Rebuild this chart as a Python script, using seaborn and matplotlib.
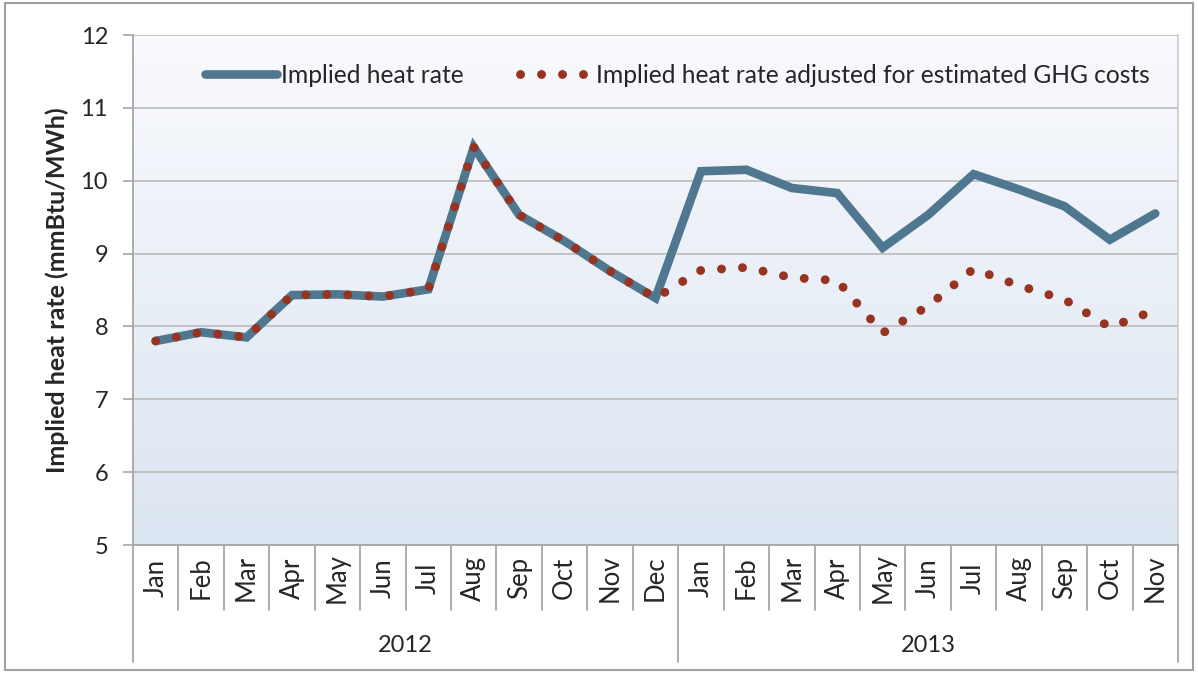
import numpy as np
import pandas as pd
import matplotlib
matplotlib.use("Agg")
import matplotlib.pyplot as plt
import matplotlib.transforms as mtransforms
from matplotlib.colors import LinearSegmentedColormap
import seaborn as sns

# data
months = ["Jan", "Feb", "Mar", "Apr", "May", "Jun", "Jul", "Aug", "Sep", "Oct", "Nov", "Dec",
          "Jan", "Feb", "Mar", "Apr", "May", "Jun", "Jul", "Aug", "Sep", "Oct", "Nov"]
years = ["2012", "2013"]
months_per_year = [12, 11]
heat_rate = [7.80, 7.92, 7.85, 8.43, 8.44, 8.41, 8.51, 10.46, 9.53, 9.17, 8.76, 8.39,
             10.13, 10.15, 9.90, 9.83, 9.08, 9.53, 10.09, 9.88, 9.65, 9.19, 9.55]
heat_rate_ghg = [7.80, 7.92, 7.85, 8.43, 8.44, 8.41, 8.51, 10.46, 9.53, 9.17, 8.76, 8.39,
                 8.77, 8.81, 8.67, 8.63, 7.91, 8.28, 8.79, 8.56, 8.37, 7.99, 8.22]

df = pd.DataFrame({"idx": np.arange(len(months)), "hr": heat_rate, "ghg": heat_rate_ghg})

sns.set_style("white")
plt.rcParams["font.family"] = ["Lato", "DejaVu Sans"]

BLUE = "#4f7790"
RED = "#973421"
GRID = "#bfbfbf"

fig = plt.figure(figsize=(11.98, 6.73), dpi=100)
ax = fig.add_axes([133 / 1198, 1 - 545 / 673, 1045 / 1198, 510 / 673])

# gradient background
grad = LinearSegmentedColormap.from_list("g", ["#dbe5f1", "#f9fafd"])
ax.imshow(np.linspace(0, 1, 256).reshape(-1, 1), cmap=grad, aspect="auto",
          extent=[0, 1, 0, 1], transform=ax.transAxes, origin="lower", zorder=0)

sns.lineplot(data=df, x="idx", y="hr", ax=ax, color=BLUE, linewidth=6.2,
             solid_capstyle="round", solid_joinstyle="miter", label="Implied heat rate", zorder=3)
sns.lineplot(data=df, x="idx", y="ghg", ax=ax, color=RED, linewidth=6.4,
             linestyle=(0, (0.01, 2.35)), dash_capstyle="round",
             label="Implied heat rate adjusted for estimated GHG costs", zorder=4)

ax.set_xlim(-0.5, len(months) - 0.5)
ax.set_ylim(5, 12)
ax.set_yticks(range(5, 13))
ax.yaxis.grid(True, color=GRID, linewidth=1.3)
ax.set_axisbelow(True)
ax.tick_params(axis="y", which="major", left=True, length=7, width=1.2, color="#a6a6a6",
               labelsize=17, pad=11)
ax.set_xticks([])
ax.set_xlabel("")
ax.set_ylabel("Implied heat rate (mmBtu/MWh)", fontsize=18, fontweight="bold", labelpad=8)
for s in ["left", "bottom", "right"]:
    ax.spines[s].set_color("#a6a6a6")
    ax.spines[s].set_linewidth(1.3)
ax.spines["right"].set_color("#d0d0d0")
ax.spines["top"].set_visible(False)

# two-level category axis
tr = mtransforms.blended_transform_factory(ax.transData, ax.transAxes)
px = 1 / 510.0
for i, m in enumerate(months):
    ax.text(i, -33 * px, m, rotation=90, ha="center", va="center", fontsize=18.5,
            transform=tr, clip_on=False)
bounds = np.cumsum([0] + months_per_year) - 0.5
for b in np.arange(-0.5, len(months) + 0.5, 1.0):
    long = np.any(np.isclose(b, bounds))
    ax.plot([b, b], [0, -(117 if long else 65) * px], color="#a6a6a6", linewidth=1.3,
            transform=tr, clip_on=False)
for k, y in enumerate(years):
    ax.text((bounds[k] + bounds[k + 1]) / 2, -100 * px, y, ha="center", va="center",
            fontsize=17, transform=tr, clip_on=False)

leg = ax.legend(loc="upper center", bbox_to_anchor=(0.521, 0.987), ncol=2, frameon=False,
                fontsize=17.7, handlelength=2.95, handletextpad=0.15, columnspacing=2.3)

# outer frame
fig.patches.append(plt.Rectangle((5 / 1198, 3 / 673), 1188 / 1198, 667 / 673,
                                 transform=fig.transFigure, fill=False,
                                 edgecolor="#a0a0a0", linewidth=1.5))

fig.savefig("out.png", dpi=100)
